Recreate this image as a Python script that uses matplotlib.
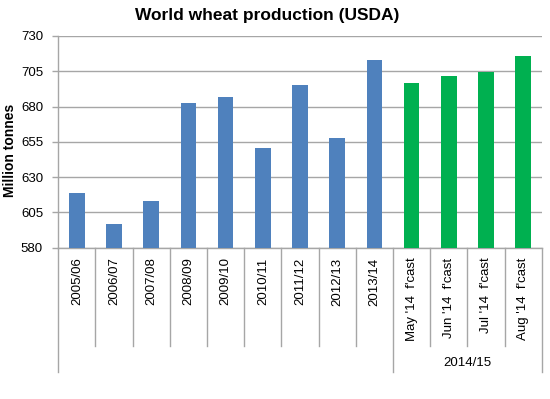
import matplotlib
matplotlib.use('Agg')
import matplotlib.pyplot as plt
import matplotlib.transforms as mtransforms

plt.rcParams['font.family'] = ['Liberation Sans', 'DejaVu Sans']

categories = ["2005/06", "2006/07", "2007/08", "2008/09", "2009/10", "2010/11",
              "2011/12", "2012/13", "2013/14",
              "May '14  f'cast", "Jun '14  f'cast", "Jul '14  f'cast", "Aug '14  f'cast"]
production = [618.8, 596.5, 613.0, 682.8, 686.6, 650.3,
              695.3, 658.0, 713.2,
              696.8, 701.5, 704.8, 715.8]
is_forecast = [False] * 9 + [True] * 4
group_label = "2014/15"
yticks = [580, 605, 630, 655, 680, 705, 730]

BLUE = "#4F81BD"
GREEN = "#00B050"
GRID = "#A6A6A6"

fig = plt.figure(figsize=(5.5, 3.99), dpi=100)
ax = fig.add_axes([0.106, 0.3792, 0.879, 0.5306])

x = list(range(len(categories)))
colors = [GREEN if f else BLUE for f in is_forecast]
ax.bar(x, production, width=0.42, color=colors, zorder=3)

ax.set_xlim(-0.5, len(categories) - 0.5)
ax.set_ylim(580, 730)
ax.set_yticks(yticks)
ax.set_yticklabels([str(v) for v in yticks], fontsize=9.5)
ax.yaxis.grid(True, color=GRID, linewidth=1, zorder=0)
ax.tick_params(axis='y', length=4, width=1, color=GRID, pad=7)

ax.set_xticks(x)
ax.set_xticklabels(categories, rotation=90, fontsize=9.5, va='top')
ax.tick_params(axis='x', length=0, pad=7)

for side in ['top', 'right']:
    ax.spines[side].set_visible(False)
for side in ['left', 'bottom']:
    ax.spines[side].set_color(GRID)
    ax.spines[side].set_linewidth(1)

# category separators below the axis
trans = mtransforms.blended_transform_factory(ax.transData, ax.transAxes)
n_hist = is_forecast.index(True)
for i in range(len(categories) + 1):
    xs = i - 0.5
    long_line = i in (0, n_hist, len(categories))
    y_end = -0.586 if long_line else -0.464
    ax.plot([xs, xs], [0, y_end], color=GRID, linewidth=1,
            transform=trans, clip_on=False)

group_center = (n_hist + len(categories) - 1) / 2
ax.text(group_center, -0.544, group_label, transform=trans,
        ha='center', va='center', fontsize=9.5)

fig.text(0.486, 0.962, "World wheat production (USDA)", ha='center',
         va='center', fontsize=12.5, fontweight='bold')
fig.text(0.018, 0.624, "Million tonnes", rotation=90, ha='center',
         va='center', fontsize=10, fontweight='bold')

fig.savefig("out.png", dpi=100)
